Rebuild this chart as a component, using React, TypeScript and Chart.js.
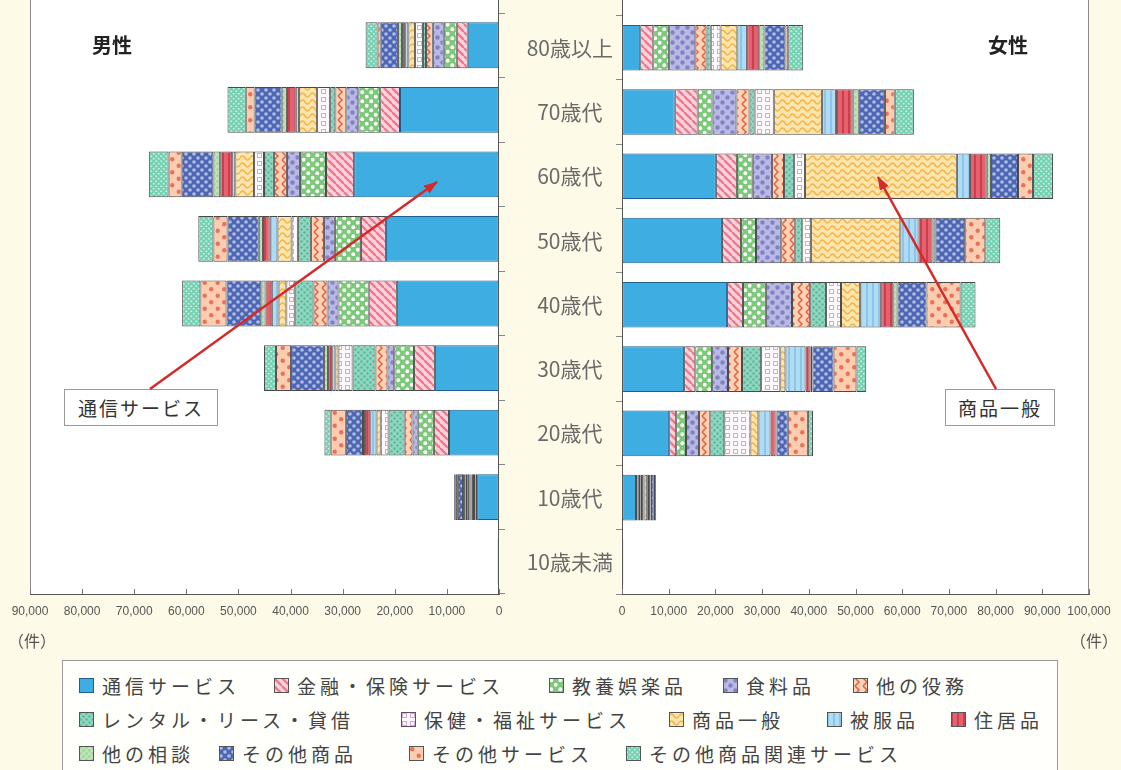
import React, { useEffect, useRef } from 'react';
import { Chart, registerables } from 'chart.js';
Chart.register(...registerables);

// ---------- data ----------
const ageLabels = ['80歳以上', '70歳代', '60歳代', '50歳代', '40歳代', '30歳代', '20歳代', '10歳代', '10歳未満'];
const seriesNames = [
  '通信サービス', '金融・保険サービス', '教養娯楽品', '食料品', '他の役務',
  'レンタル・リース・貸借', '保健・福祉サービス', '商品一般', '被服品', '住居品',
  '他の相談', 'その他商品', 'その他サービス', 'その他商品関連サービス',
];
const maleTicks = [0, 10000, 20000, 30000, 40000, 50000, 60000, 70000, 80000, 90000];
const femaleTicks = [0, 10000, 20000, 30000, 40000, 50000, 60000, 70000, 80000, 90000, 100000];

// 男性 (件) rows: 80歳以上 ... 10歳未満
const maleTsushin = [6000, 19000, 27800, 21700, 19600, 12300, 9600, 4200, 150];
const maleKinyu = [2100, 3800, 5400, 4800, 5400, 4000, 2900, 300, 10];
const maleKyoyo = [2500, 4200, 5000, 5000, 5800, 3800, 3100, 300, 20];
const maleShokuryo = [2100, 2300, 2500, 2100, 2100, 1300, 1000, 200, 10];
const maleEkimu = [1300, 2100, 2500, 2500, 2700, 2300, 1500, 300, 10];
const maleRental = [600, 1000, 1900, 2500, 3500, 4400, 3100, 200, 10];
const maleHoken = [1500, 2500, 1900, 1200, 1700, 2700, 1500, 200, 10];
const maleShohinIppan = [1300, 3500, 3600, 2700, 1500, 600, 800, 400, 20];
const maleHifuku = [600, 600, 600, 1500, 1300, 600, 1200, 300, 10];
const maleJukyo = [600, 1700, 2300, 1300, 1200, 800, 1000, 300, 10];
const maleSodan = [800, 1000, 1300, 800, 800, 800, 400, 200, 10];
const maleSonotaShohin = [3300, 5200, 6100, 6000, 6700, 6300, 3300, 1000, 50];
const maleSonotaService = [600, 1700, 2500, 2700, 5000, 2900, 2900, 400, 30];
const maleSonotaKanren = [2300, 3500, 3800, 2900, 3500, 2300, 1200, 300, 10];

// 女性 (件)
const femaleTsushin = [3900, 11300, 20100, 21400, 22500, 13300, 10100, 3000, 100];
const femaleKinyu = [2800, 4900, 4500, 4100, 3400, 2400, 1500, 300, 10];
const femaleKyoyo = [3400, 3200, 3400, 3200, 4900, 3600, 2100, 300, 20];
const femaleShokuryo = [5600, 5100, 4100, 5400, 5600, 3400, 2800, 400, 10];
const femaleEkimu = [2400, 2800, 2600, 3000, 3900, 3000, 2400, 300, 10];
const femaleRental = [900, 1100, 2100, 1500, 3400, 4100, 3000, 300, 10];
const femaleHoken = [2100, 4100, 2400, 1900, 3200, 4100, 5600, 200, 10];
const femaleShohinIppan = [3600, 10300, 32500, 19100, 4100, 1100, 1700, 600, 20];
const femaleHifuku = [2100, 3000, 2800, 3900, 4500, 4300, 2600, 400, 10];
const femaleJukyo = [2600, 3600, 3600, 3000, 2600, 1100, 1100, 300, 10];
const femaleSodan = [1100, 1300, 900, 600, 900, 400, 200, 100, 10];
const femaleSonotaShohin = [4500, 5600, 5800, 6400, 6200, 4500, 2400, 600, 50];
const femaleSonotaService = [600, 2100, 3200, 4300, 7300, 4900, 4300, 300, 30];
const femaleSonotaKanren = [3200, 4100, 4300, 3200, 3200, 2100, 1100, 200, 10];

const maleSeries = [maleTsushin, maleKinyu, maleKyoyo, maleShokuryo, maleEkimu, maleRental, maleHoken,
  maleShohinIppan, maleHifuku, maleJukyo, maleSodan, maleSonotaShohin, maleSonotaService, maleSonotaKanren];
const femaleSeries = [femaleTsushin, femaleKinyu, femaleKyoyo, femaleShokuryo, femaleEkimu, femaleRental, femaleHoken,
  femaleShohinIppan, femaleHifuku, femaleJukyo, femaleSodan, femaleSonotaShohin, femaleSonotaService, femaleSonotaKanren];

// ---------- styles ----------
type PSpec = { kind: string; bg: string; fg: string; size?: number; r?: number };
const patternSpecs: PSpec[] = [
  { kind: 'solid', bg: '#3eaee2', fg: '#3eaee2' },
  { kind: 'diag', bg: '#fcd3da', fg: '#f07891' },
  { kind: 'dots', bg: '#7dc87b', fg: '#ffffff', size: 9, r: 1.9 },
  { kind: 'dots', bg: '#b9b9e6', fg: '#8383c4', size: 10, r: 2.2 },
  { kind: 'zigzag', bg: '#fdd3b8', fg: '#e2603e' },
  { kind: 'dots', bg: '#8dd7c0', fg: '#5fb59b', size: 6, r: 1.2 },
  { kind: 'squares', bg: '#fdf8fc', fg: '#d9a6dc' },
  { kind: 'wave', bg: '#fde6ad', fg: '#f3b54c' },
  { kind: 'vlines', bg: '#afdbf3', fg: '#8cc4ea' },
  { kind: 'vlines', bg: '#e6606e', fg: '#c83f50' },
  { kind: 'dots', bg: '#bfe3b8', fg: '#9fd096', size: 6, r: 1.2 },
  { kind: 'dots', bg: '#4d66b6', fg: '#b3bedf', size: 8, r: 1.8 },
  { kind: 'dots', bg: '#fdcdb2', fg: '#e8735a', size: 13, r: 2.2 },
  { kind: 'dots', bg: '#74d0b2', fg: '#c4ecdd', size: 5, r: 1.1 },
];

function makePattern(s: PSpec): CanvasPattern | string {
  if (s.kind === 'solid') return s.bg;
  const c = document.createElement('canvas');
  let w = 8, h = 8;
  if (s.kind === 'dots') { w = h = s.size || 8; }
  if (s.kind === 'wave') { w = 10; h = 7; }
  if (s.kind === 'vlines') { w = 6; h = 6; }
  c.width = w; c.height = h;
  const g = c.getContext('2d')!;
  g.fillStyle = s.bg; g.fillRect(0, 0, w, h);
  g.fillStyle = s.fg; g.strokeStyle = s.fg;
  if (s.kind === 'diag') {
    g.lineWidth = 2.4;
    for (const o of [-8, 0, 8]) { g.beginPath(); g.moveTo(o, 0); g.lineTo(o + 8, 8); g.stroke(); }
  } else if (s.kind === 'dots') {
    const r = s.r || 1.5;
    for (const [x, y] of [[w / 4, h / 4], [3 * w / 4, 3 * h / 4]]) {
      g.beginPath(); g.arc(x, y, r, 0, Math.PI * 2); g.fill();
    }
  } else if (s.kind === 'zigzag') {
    g.lineWidth = 1.5;
    g.beginPath(); g.moveTo(2, 0); g.lineTo(6, 4); g.lineTo(2, 8); g.stroke();
  } else if (s.kind === 'wave') {
    g.lineWidth = 1.6;
    g.beginPath(); g.moveTo(0, 4); g.quadraticCurveTo(2.5, 0, 5, 4); g.quadraticCurveTo(7.5, 8, 10, 4); g.stroke();
  } else if (s.kind === 'squares') {
    g.lineWidth = 1;
    g.strokeRect(1.5, 1.5, 4, 4);
  } else if (s.kind === 'vlines') {
    g.fillRect(0, 0, 2, h);
  }
  return g.createPattern(c, 'repeat')!;
}

const fmt = (v: number) => v.toLocaleString('en-US');
const tickFont = { family: "'Liberation Sans Narrow','Liberation Sans',sans-serif", size: 12 };
const jpFont = "'Noto Sans CJK JP','Noto Sans',sans-serif";

function panelPlugin(side: 'left' | 'right', tickVals: number[]) {
  return {
    id: 'panel_' + side,
    beforeDraw(chart: any) {
      const { ctx, chartArea: a } = chart;
      ctx.save();
      ctx.fillStyle = '#ffffff';
      ctx.fillRect(a.left, 0, a.right - a.left, a.bottom);
      ctx.restore();
    },
    afterDraw(chart: any) {
      const { ctx, chartArea: a } = chart;
      const xs = chart.scales.x;
      ctx.save();
      ctx.lineWidth = 1;
      ctx.strokeStyle = '#8a8a8a';
      ctx.beginPath();
      const ox = side === 'left' ? Math.round(a.left) + 0.5 : Math.round(a.right) - 0.5;
      ctx.moveTo(ox, 0); ctx.lineTo(ox, a.bottom);
      ctx.stroke();
      ctx.strokeStyle = '#555';
      ctx.beginPath();
      const ix = side === 'left' ? Math.round(a.right) - 0.5 : Math.round(a.left) + 0.5;
      ctx.moveTo(ix, 0); ctx.lineTo(ix, a.bottom);
      ctx.stroke();
      ctx.strokeStyle = '#777';
      for (const v of tickVals) {
        const px = Math.round(xs.getPixelForValue(v)) + 0.5;
        ctx.beginPath(); ctx.moveTo(px, a.bottom); ctx.lineTo(px, a.bottom - 5); ctx.stroke();
      }
      ctx.restore();
    },
  };
}

function buildDatasets(series: number[][], pats: (CanvasPattern | string)[]) {
  return series.map((d, i) => ({
    label: seriesNames[i],
    data: d,
    backgroundColor: pats[i],
    borderColor: i === 0 ? '#1f5f8e' : '#4a4a4a',
    borderWidth: 1,
    borderSkipped: false,
    barPercentage: 0.71,
    categoryPercentage: 1,
  }));
}

const legendRows: { idx: number; x: number }[][] = [
  [{ idx: 0, x: 78 }, { idx: 1, x: 273 }, { idx: 2, x: 548 }, { idx: 3, x: 722 }, { idx: 4, x: 852 }],
  [{ idx: 5, x: 78 }, { idx: 6, x: 400 }, { idx: 7, x: 668 }, { idx: 8, x: 826 }, { idx: 9, x: 950 }],
  [{ idx: 10, x: 78 }, { idx: 11, x: 218 }, { idx: 12, x: 408 }, { idx: 13, x: 625 }],
];
const legendRowY = [684, 718, 752];

export default function App() {
  const leftRef = useRef<HTMLCanvasElement>(null);
  const rightRef = useRef<HTMLCanvasElement>(null);
  const legendRef = useRef<HTMLDivElement>(null);

  useEffect(() => {
    const pats = patternSpecs.map(makePattern);
    const left = new Chart(leftRef.current!, {
      type: 'bar',
      data: { labels: ageLabels, datasets: buildDatasets(maleSeries, pats) as any },
      options: {
        indexAxis: 'y', animation: false, responsive: false, maintainAspectRatio: false,
        layout: { padding: { left: 30, right: 7, top: 13, bottom: 0 } },
        plugins: { legend: { display: false }, tooltip: { enabled: false } },
        scales: {
          x: {
            stacked: true, min: 0, max: 90000, reverse: true,
            afterBuildTicks: (s: any) => { s.ticks = maleTicks.map((v) => ({ value: v })); },
            ticks: { padding: 10, font: tickFont, color: '#555', maxRotation: 0, autoSkip: false, callback: (v: any) => fmt(Number(v)) },
            grid: { display: true, drawOnChartArea: false, drawTicks: false },
            border: { display: true, color: '#555' },
            afterFit: (s: any) => { s.height = 56; },
          },
          y: {
            stacked: true, position: 'right',
            ticks: { display: false },
            grid: { display: true, drawOnChartArea: false, drawTicks: true, tickLength: 6, color: '#888', offset: true },
            border: { display: false },
            afterFit: (s: any) => { s.width = 6; },
          },
        },
      } as any,
      plugins: [panelPlugin('left', maleTicks)],
    });
    const right = new Chart(rightRef.current!, {
      type: 'bar',
      data: { labels: ageLabels, datasets: buildDatasets(femaleSeries, pats) as any },
      options: {
        indexAxis: 'y', animation: false, responsive: false, maintainAspectRatio: false,
        layout: { padding: { left: 0, right: 32, top: 13, bottom: 0 } },
        plugins: { legend: { display: false }, tooltip: { enabled: false } },
        scales: {
          x: {
            stacked: true, min: 0, max: 100000,
            afterBuildTicks: (s: any) => { s.ticks = femaleTicks.map((v) => ({ value: v })); },
            ticks: { padding: 10, font: tickFont, color: '#555', maxRotation: 0, autoSkip: false, callback: (v: any) => fmt(Number(v)) },
            grid: { display: true, drawOnChartArea: false, drawTicks: false },
            border: { display: true, color: '#555' },
            afterFit: (s: any) => { s.height = 56; },
          },
          y: {
            stacked: true, position: 'left',
            ticks: { crossAlign: 'center', padding: 3, font: { family: jpFont, size: 21 }, color: '#6a6a6a' },
            grid: { display: true, drawOnChartArea: false, drawTicks: true, tickLength: 6, color: '#888', offset: true },
            border: { display: false },
            afterFit: (s: any) => { s.width = 122; },
          },
        },
      } as any,
      plugins: [panelPlugin('right', femaleTicks)],
    });

    const sw = legendRef.current!.querySelectorAll('canvas');
    sw.forEach((cv) => {
      const i = Number((cv as HTMLCanvasElement).dataset.idx);
      const g = (cv as HTMLCanvasElement).getContext('2d')!;
      g.fillStyle = pats[i] as any;
      g.fillRect(0, 0, 15, 15);
      g.strokeStyle = i === 0 ? '#1f5f8e' : '#555';
      g.lineWidth = 1;
      g.strokeRect(0.5, 0.5, 14, 14);
    });

    return () => { left.destroy(); right.destroy(); };
  }, []);

  const abs = (o: React.CSSProperties): React.CSSProperties => ({ position: 'absolute', ...o });

  return (
    <div style={abs({ left: 0, top: 0, width: 1121, height: 770, overflow: 'hidden', background: '#fdfbe7', fontFamily: jpFont })}>
      <canvas ref={leftRef} width={512} height={650} style={abs({ left: 0, top: 0, width: 512, height: 650 })} />
      <canvas ref={rightRef} width={621} height={650} style={abs({ left: 500, top: 0, width: 621, height: 650 })} />

      <div style={abs({ left: 92, top: 31, fontSize: 20, fontWeight: 700, color: '#222', lineHeight: '28px' })}>男性</div>
      <div style={abs({ left: 988, top: 31, fontSize: 20, fontWeight: 700, color: '#222', lineHeight: '28px' })}>女性</div>

      <div style={abs({ left: 8, top: 630, fontSize: 16, color: '#555', lineHeight: '20px' })}>（件）</div>
      <div style={abs({ left: 1070, top: 630, fontSize: 16, color: '#555', lineHeight: '20px' })}>（件）</div>

      <div style={abs({ left: 64, top: 389, width: 154, height: 37, boxSizing: 'border-box', border: '1px solid #9a9a9a', background: '#fff', fontSize: 19, letterSpacing: 2, color: '#333', display: 'flex', alignItems: 'center', justifyContent: 'center' })}>通信サービス</div>
      <div style={abs({ left: 945, top: 389, width: 110, height: 37, boxSizing: 'border-box', border: '1px solid #9a9a9a', background: '#fff', fontSize: 19, letterSpacing: 2, color: '#333', display: 'flex', alignItems: 'center', justifyContent: 'center' })}>商品一般</div>

      <svg width={1121} height={770} style={abs({ left: 0, top: 0, pointerEvents: 'none' })}>
        <defs>
          <marker id="ah" markerWidth="14" markerHeight="10" refX="13" refY="5" orient="auto" markerUnits="userSpaceOnUse">
            <polygon points="0,0 14,5 0,10" fill="#d42a2a" />
          </marker>
        </defs>
        <line x1={150} y1={389} x2={437} y2={182} stroke="#d42a2a" strokeWidth={2.5} markerEnd="url(#ah)" />
        <line x1={996} y1={389} x2={878} y2={177} stroke="#d42a2a" strokeWidth={2.5} markerEnd="url(#ah)" />
      </svg>

      <div ref={legendRef} style={abs({ left: 62, top: 660, width: 996, height: 130, boxSizing: 'border-box', border: '1px solid #9a9a9a', background: '#fffffb' })}>
        {legendRows.map((row, ri) => row.map((it) => (
          <div key={it.idx} style={abs({ left: it.x - 62, top: legendRowY[ri] - 660 - 14, height: 28, display: 'flex', alignItems: 'center', whiteSpace: 'nowrap' })}>
            <canvas data-idx={it.idx} width={15} height={15} style={{ width: 15, height: 15, marginRight: 8 }} />
            <span style={{ fontSize: 19, letterSpacing: 4, color: '#444' }}>{seriesNames[it.idx]}</span>
          </div>
        )))}
      </div>
    </div>
  );
}
